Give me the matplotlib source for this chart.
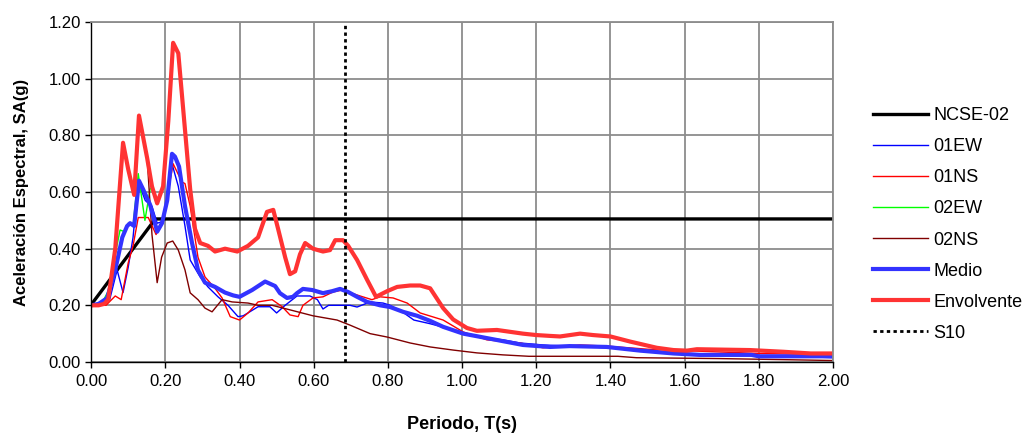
import matplotlib
matplotlib.use("Agg")
import matplotlib.pyplot as plt

plt.rcParams["font.family"] = ["Liberation Sans", "DejaVu Sans"]
plt.rcParams["font.size"] = 12

# NCSE-02 design spectrum
t_ncse = [0.0, 0.173, 2.0]
sa_ncse = [0.202, 0.505, 0.505]

# 01EW
t_01ew = [0, 0.03, 0.05, 0.07, 0.086, 0.10, 0.113, 0.127, 0.146, 0.164,
          0.178, 0.191, 0.205, 0.218, 0.235, 0.253, 0.267, 0.294, 0.315, 0.342,
          0.369, 0.396, 0.41, 0.45, 0.482, 0.50, 0.523, 0.555, 0.59, 0.61,
          0.625, 0.64, 0.698, 0.717, 0.752, 0.787, 0.806, 0.841, 0.87, 0.914,
          0.986, 1.04, 1.11, 1.156, 1.218, 1.30, 1.40, 1.50, 1.60, 1.70,
          1.80, 1.90, 2.0]
sa_01ew = [0.20, 0.205, 0.22, 0.325, 0.245, 0.335, 0.44, 0.635, 0.57, 0.55,
           0.49, 0.495, 0.56, 0.70, 0.62, 0.48, 0.36, 0.30, 0.265, 0.23,
           0.20, 0.16, 0.163, 0.195, 0.195, 0.173, 0.20, 0.233, 0.233, 0.22,
           0.187, 0.20, 0.20, 0.194, 0.212, 0.208, 0.20, 0.175, 0.148, 0.135,
           0.11, 0.088, 0.078, 0.067, 0.06, 0.055, 0.05, 0.04, 0.03, 0.028,
           0.022, 0.02, 0.015]

# 01NS
t_01ns = [0, 0.04, 0.065, 0.081, 0.10, 0.113, 0.127, 0.14, 0.154, 0.175,
          0.194, 0.205, 0.221, 0.245, 0.253, 0.267, 0.288, 0.307, 0.334, 0.353,
          0.375, 0.40, 0.423, 0.45, 0.488, 0.515, 0.536, 0.558, 0.571, 0.598,
          0.625, 0.652, 0.677, 0.693, 0.725, 0.757, 0.779, 0.814, 0.852, 0.887,
          0.949, 1.003, 1.067, 1.156, 1.218, 1.318, 1.39, 1.50, 1.60, 1.70,
          1.80, 1.90, 2.0]
sa_01ns = [0.20, 0.20, 0.233, 0.22, 0.35, 0.41, 0.51, 0.51, 0.51, 0.45,
           0.50, 0.58, 0.70, 0.635, 0.63, 0.55, 0.37, 0.30, 0.26, 0.226,
           0.16, 0.148, 0.173, 0.212, 0.22, 0.195, 0.166, 0.16, 0.20, 0.226,
           0.23, 0.247, 0.254, 0.247, 0.233, 0.22, 0.23, 0.226, 0.208, 0.173,
           0.148, 0.106, 0.078, 0.067, 0.05, 0.06, 0.056, 0.045, 0.04, 0.035,
           0.03, 0.028, 0.025]

# 02EW
t_02ew = [0, 0.03, 0.05, 0.065, 0.078, 0.09, 0.10, 0.113, 0.127, 0.145,
          0.159, 0.164, 0.178, 0.194, 0.208, 0.221, 0.235, 0.253, 0.267, 0.28,
          0.294, 0.315, 0.334, 0.361, 0.394, 0.423, 0.45, 0.474, 0.491, 0.504,
          0.523, 0.536, 0.55, 0.563, 0.577, 0.598, 0.625, 0.644, 0.658, 0.679,
          0.693, 0.717, 0.744, 0.768, 0.798, 0.825, 0.86, 0.887, 0.914, 0.949,
          0.976, 1.013, 1.04, 1.094, 1.164, 1.20, 1.237, 1.264, 1.318, 1.353,
          1.40, 1.453, 1.525, 1.57, 1.606, 1.633, 1.776, 1.866, 1.94, 2.0]
sa_02ew = [0.20, 0.21, 0.26, 0.38, 0.466, 0.46, 0.49, 0.48, 0.665, 0.50,
           0.61, 0.62, 0.56, 0.62, 0.85, 1.127, 1.09, 0.82, 0.61, 0.47,
           0.42, 0.41, 0.39, 0.40, 0.39, 0.41, 0.44, 0.53, 0.537, 0.47,
           0.37, 0.31, 0.32, 0.38, 0.42, 0.40, 0.39, 0.395, 0.43, 0.43,
           0.41, 0.36, 0.29, 0.23, 0.25, 0.265, 0.27, 0.27, 0.26, 0.19,
           0.15, 0.12, 0.11, 0.113, 0.10, 0.095, 0.092, 0.09, 0.10, 0.095,
           0.09, 0.072, 0.05, 0.042, 0.04, 0.045, 0.042, 0.036, 0.03, 0.03]

# 02NS
t_02ns = [0, 0.02, 0.035, 0.046, 0.065, 0.086, 0.10, 0.116, 0.129, 0.151,
          0.164, 0.178, 0.19, 0.205, 0.22, 0.235, 0.253, 0.267, 0.288, 0.307,
          0.326, 0.353, 0.38, 0.423, 0.45, 0.488, 0.536, 0.598, 0.663, 0.698,
          0.752, 0.798, 0.86, 0.914, 0.976, 1.04, 1.11, 1.18, 1.42, 1.47,
          1.69, 1.875, 2.0]
sa_02ns = [0.20, 0.20, 0.205, 0.22, 0.40, 0.774, 0.68, 0.59, 0.87, 0.72,
           0.45, 0.28, 0.37, 0.42, 0.427, 0.395, 0.325, 0.244, 0.22, 0.19,
           0.177, 0.22, 0.212, 0.208, 0.20, 0.20, 0.184, 0.163, 0.148, 0.13,
           0.10, 0.088, 0.067, 0.053, 0.042, 0.032, 0.025, 0.02, 0.02, 0.015,
           0.012, 0.008, 0.005]

# Medio (mean spectrum)
t_medio = [0, 0.02, 0.043, 0.065, 0.084, 0.097, 0.105, 0.116, 0.129, 0.14,
           0.159, 0.178, 0.191, 0.205, 0.218, 0.226, 0.237, 0.253, 0.272, 0.288,
           0.307, 0.334, 0.361, 0.383, 0.40, 0.434, 0.469, 0.496, 0.509, 0.528,
           0.544, 0.555, 0.571, 0.596, 0.625, 0.65, 0.671, 0.693, 0.717, 0.744,
           0.779, 0.806, 0.841, 0.879, 0.914, 0.949, 1.003, 1.084, 1.164, 1.237,
           1.29, 1.39, 1.48, 1.57, 1.64, 1.78, 1.80, 2.0]
sa_medio = [0.20, 0.205, 0.225, 0.325, 0.44, 0.48, 0.49, 0.48, 0.64, 0.61,
            0.555, 0.46, 0.49, 0.57, 0.735, 0.725, 0.69, 0.55, 0.42, 0.325,
            0.28, 0.265, 0.245, 0.235, 0.23, 0.254, 0.284, 0.268, 0.243, 0.226,
            0.23, 0.243, 0.258, 0.254, 0.243, 0.25, 0.258, 0.247, 0.23, 0.212,
            0.20, 0.194, 0.177, 0.163, 0.145, 0.124, 0.10, 0.08, 0.06, 0.053,
            0.056, 0.053, 0.04, 0.03, 0.025, 0.025, 0.02, 0.02]

# Envolvente (envelope)
t_env = [0, 0.02, 0.035, 0.046, 0.065, 0.086, 0.10, 0.116, 0.129, 0.151,
         0.164, 0.178, 0.194, 0.208, 0.221, 0.235, 0.253, 0.267, 0.28, 0.294,
         0.315, 0.334, 0.361, 0.394, 0.423, 0.45, 0.474, 0.491, 0.504, 0.523,
         0.536, 0.55, 0.563, 0.577, 0.598, 0.625, 0.644, 0.658, 0.679, 0.693,
         0.717, 0.744, 0.768, 0.798, 0.825, 0.86, 0.887, 0.914, 0.949, 0.976,
         1.013, 1.04, 1.094, 1.164, 1.20, 1.237, 1.264, 1.318, 1.353, 1.40,
         1.453, 1.525, 1.57, 1.606, 1.633, 1.776, 1.866, 1.94, 2.0]
sa_env = [0.20, 0.20, 0.205, 0.22, 0.40, 0.774, 0.68, 0.59, 0.87, 0.72,
          0.62, 0.56, 0.62, 0.85, 1.127, 1.09, 0.82, 0.61, 0.47, 0.42,
          0.41, 0.39, 0.40, 0.39, 0.41, 0.44, 0.53, 0.537, 0.47, 0.37,
          0.31, 0.32, 0.38, 0.42, 0.40, 0.39, 0.395, 0.43, 0.43, 0.41,
          0.36, 0.29, 0.23, 0.25, 0.265, 0.27, 0.27, 0.26, 0.19, 0.15,
          0.12, 0.11, 0.113, 0.10, 0.095, 0.092, 0.09, 0.10, 0.095, 0.09,
          0.072, 0.05, 0.042, 0.04, 0.045, 0.042, 0.036, 0.03, 0.03]

T_S10 = 0.685

fig = plt.figure(figsize=(10.24, 4.34), dpi=100)
ax = fig.add_axes([0.089, 0.166, 0.7245, 0.783])

ax.plot(t_ncse, sa_ncse, color="black", lw=2.4, label="NCSE-02")
ax.plot(t_01ew, sa_01ew, color="#0000FF", lw=1.0, label="01EW")
ax.plot(t_01ns, sa_01ns, color="#FF0000", lw=1.0, label="01NS")
ax.plot(t_02ew, sa_02ew, color="#00FF00", lw=1.0, label="02EW")
ax.plot(t_02ns, sa_02ns, color="#800000", lw=1.0, label="02NS")
ax.plot(t_medio, sa_medio, color="#3333FF", lw=3.0, label="Medio")
ax.plot(t_env, sa_env, color="#FF3333", lw=3.0, label="Envolvente")
ax.axvline(T_S10, color="black", lw=2.0, linestyle=(0, (1.2, 1.2)), label="S10")

ax.set_xlim(0, 2.0)
ax.set_ylim(0, 1.2)
ax.set_xticks([i * 0.2 for i in range(11)])
ax.set_yticks([i * 0.2 for i in range(7)])
ax.set_xticklabels([f"{i * 0.2:.2f}" for i in range(11)])
ax.set_yticklabels([f"{i * 0.2:.2f}" for i in range(7)])
ax.grid(True, color="#8c8c8c", lw=1.3)
ax.set_axisbelow(True)
ax.tick_params(direction="out", length=4, width=1, colors="black", labelsize=12)
ax.tick_params(axis="x", pad=5)

for side in ["top", "right"]:
    ax.spines[side].set_color("#8c8c8c")
    ax.spines[side].set_linewidth(1.3)
for side in ["left", "bottom"]:
    ax.spines[side].set_color("black")
    ax.spines[side].set_linewidth(1.0)

ax.set_xlabel("Periodo, T(s)", fontweight="bold", fontsize=13, labelpad=19)
ax.set_ylabel("Aceleración Espectral, SA(g)", fontweight="bold", fontsize=12, labelpad=14)

fig.legend(loc="upper left", bbox_to_anchor=(0.853, 0.753), frameon=False,
           borderpad=0, borderaxespad=0, handlelength=3.0, handletextpad=0.3,
           labelspacing=0.78, fontsize=13)

fig.savefig("out.png", dpi=100)
